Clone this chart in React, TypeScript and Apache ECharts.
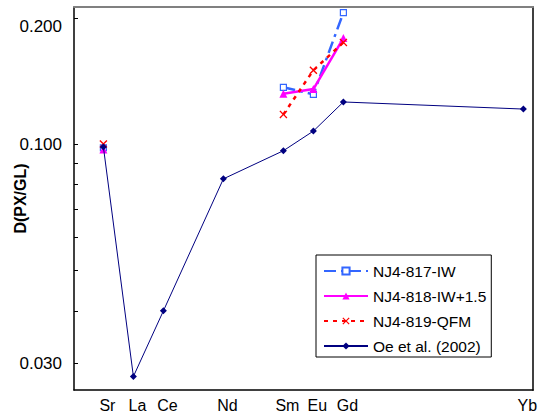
import React, { useEffect, useRef } from "react";
import * as echarts from "echarts";

const elements = ["Sr", "La", "Ce", "Nd", "Sm", "Eu", "Gd", "Yb"];
const elementX = [0, 1, 2, 4, 6, 7, 8, 14];

const nj817: (number | null)[] = [0.098, null, null, null, 0.1366, 0.1314, 0.2058, null];
const nj818: (number | null)[] = [0.097, null, null, null, 0.1318, 0.1353, 0.179, null];
const nj819: (number | null)[] = [0.1, null, null, null, 0.1177, 0.15, 0.1748, null];
const oe2002: (number | null)[] = [0.0984, 0.0279, 0.04, 0.0826, 0.0964, 0.1074, 0.126, 0.1212];

const yLabelValues = [0.03, 0.1, 0.2];
const yTickValues = [0.03, 0.04, 0.05, 0.06, 0.07, 0.08, 0.09, 0.1, 0.2];

const FONT = "Liberation Sans, Arial, sans-serif";

const toPairs = (vals: (number | null)[]) =>
  vals.map((v, i) => [elementX[i], v === null ? "-" : v]);

const crossPath =
  "path://M0,1.2L1.2,0L5,3.8L8.8,0L10,1.2L6.2,5L10,8.8L8.8,10L5,6.2L1.2,10L0,8.8L3.8,5Z";

export default function App() {
  const ref = useRef<HTMLDivElement>(null);
  useEffect(() => {
    if (!ref.current) return;
    const chart = echarts.init(ref.current, null, { renderer: "svg" });
    chart.setOption({
      animation: false,
      backgroundColor: "#ffffff",
      textStyle: { fontFamily: FONT },
      grid: { left: 74, top: 7, width: 459, height: 383, show: false, containLabel: false, outerBoundsMode: "none" },
      xAxis: [
        {
          type: "value",
          min: -0.98,
          max: 14.32,
          splitLine: { show: false },
          axisTick: { show: false },
          axisLine: { show: true, onZero: false, lineStyle: { color: "#000", width: 1.5 } },
          axisLabel: {
            customValues: elementX,
            formatter: (v: number) => {
              const i = elementX.indexOf(Math.round(v));
              return i >= 0 ? elements[i] : "";
            },
            color: "#000",
            fontSize: 16,
            fontFamily: FONT,
            margin: 7,
            padding: [0, 0, 0, 8],
          },
        },
        {
          type: "value",
          position: "top",
          min: -0.98,
          max: 14.32,
          splitLine: { show: false },
          axisTick: { show: false },
          axisLabel: { show: false },
          axisLine: { show: true, onZero: false, lineStyle: { color: "#808080", width: 2 } },
        },
      ],
      yAxis: [
        {
          type: "log",
          logBase: 10,
          min: 0.0259,
          max: 0.2123,
          name: "D(PX/GL)",
          nameLocation: "middle",
          nameGap: 46,
          nameMoveOverlap: false,
          nameRotate: 90,
          nameTextStyle: { fontSize: 16, fontWeight: "bold", color: "#000", fontFamily: FONT },
          splitLine: { show: false },
          axisLine: { show: true, onZero: false, lineStyle: { color: "#000", width: 1.5 } },
          axisTick: {
            show: true,
            inside: true,
            length: 4,
            customValues: yTickValues,
            lineStyle: { color: "#000" },
          },
          minorTick: { show: false },
          axisLabel: {
            customValues: yLabelValues,
            formatter: (v: number) => (v > 0.15 ? "{lo|" + v.toFixed(3) + "}" : v.toFixed(3)),
            rich: { lo: { fontSize: 17, color: "#000", fontFamily: FONT, padding: [18, 0, 0, 0] } },
            color: "#000",
            fontSize: 17,
            fontFamily: FONT,
            margin: 12,
          },
        },
        {
          type: "log",
          logBase: 10,
          position: "right",
          min: 0.0259,
          max: 0.2123,
          splitLine: { show: false },
          axisTick: { show: false },
          axisLabel: { show: false },
          axisLine: { show: true, onZero: false, lineStyle: { color: "#404040", width: 2 } },
        },
      ],
      legend: {
        orient: "vertical",
        left: 316,
        top: 255,
        padding: [8, 5, 3, 7],
        itemWidth: 44,
        itemHeight: 9,
        itemGap: 9,
        borderColor: "#000",
        borderWidth: 1,
        backgroundColor: "#fff",
        textStyle: { fontSize: 15.5, color: "#000", fontFamily: FONT, lineHeight: 16 },
        data: ["NJ4-817-IW", "NJ4-818-IW+1.5", "NJ4-819-QFM", "Oe et al. (2002)"],
      },
      series: [
        {
          name: "NJ4-817-IW",
          type: "line",
          data: toPairs(nj817),
          connectNulls: false,
          symbol: "rect",
          symbolSize: 6,
          itemStyle: { color: "#ffffff", borderColor: "#3366ff", borderWidth: 1.2 },
          lineStyle: { color: "#3366ff", width: 2.5, type: [12, 5, 3, 5] },
          color: "#3366ff",
          z: 2,
        },
        {
          name: "NJ4-818-IW+1.5",
          type: "line",
          data: toPairs(nj818),
          connectNulls: false,
          symbol: "triangle",
          symbolSize: 8,
          itemStyle: { color: "#ff00ff" },
          lineStyle: { color: "#ff00ff", width: 2.5, type: "solid" },
          z: 3,
        },
        {
          name: "NJ4-819-QFM",
          type: "line",
          data: toPairs(nj819),
          connectNulls: false,
          symbol: crossPath,
          symbolSize: 8,
          itemStyle: { color: "#ff0000" },
          lineStyle: { color: "#ff0000", width: 2.5, type: [4, 5] },
          z: 4,
        },
        {
          name: "Oe et al. (2002)",
          type: "line",
          data: toPairs(oe2002),
          connectNulls: false,
          symbol: "diamond",
          symbolSize: 7,
          itemStyle: { color: "#000080" },
          lineStyle: { color: "#000080", width: 1 },
          z: 5,
        },
      ],
    });
    return () => chart.dispose();
  }, []);
  return (
    <div
      ref={ref}
      style={{ position: "fixed", left: 0, top: 0, width: 539, height: 414 }}
    />
  );
}
